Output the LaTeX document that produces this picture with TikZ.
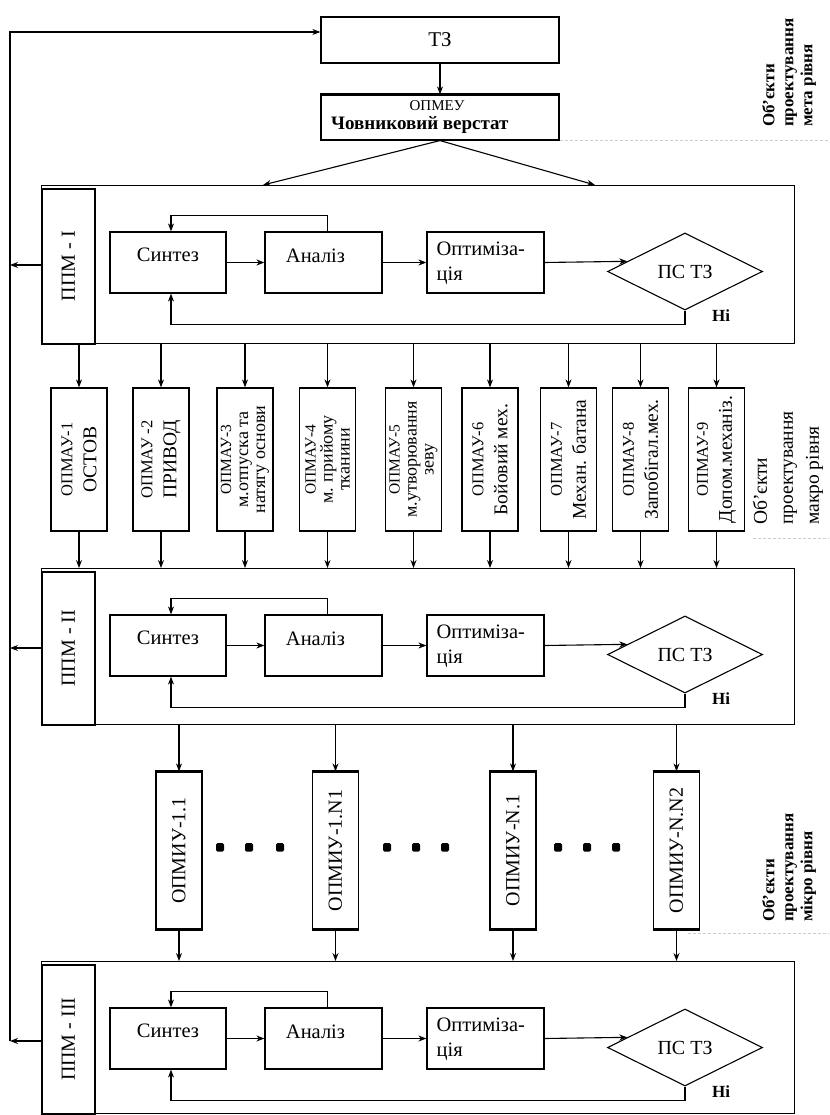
\documentclass[tikz,border=0pt]{standalone}
\usepackage{fontspec}
\setmainfont{Liberation Serif}
\usetikzlibrary{arrows.meta,shapes.geometric}
\tikzset{
  blk/.style={draw, line width=1.2pt, inner sep=0pt},
  arr/.style={-{Stealth[length=8pt,width=6pt]}, line width=1.1pt},
  btxt/.style={inner sep=0pt, font=\fontsize{20.5}{25}\selectfont},
  dec/.style={draw, diamond, shape aspect=2, line width=1.1pt, inner sep=0pt,
    minimum width=155pt, minimum height=77pt, font=\fontsize{20}{24}\selectfont},
  lbl/.style={rotate=90, inner sep=0pt, font=\fontsize{20}{24}\selectfont},
  notxt/.style={inner sep=0pt, font=\bfseries\fontsize{17}{20}\selectfont},
  mbox/.style={blk, minimum width=56pt, minimum height=143pt},
  mtxt/.style={rotate=90, align=center, inner sep=0pt, font=\fontsize{19.5}{22}\selectfont},
  mtxtc/.style={rotate=90, align=center, inner sep=0pt, font=\fontsize{18}{17}\selectfont},
  mic/.style={blk, minimum width=46pt, minimum height=157pt},
  mitxt/.style={rotate=90, inner sep=0pt, font=\fontsize{20}{22}\selectfont},
  side/.style={rotate=90, align=left, inner sep=0pt, font=\bfseries\fontsize{17}{19}\selectfont},
  sidem/.style={rotate=90, align=left, inner sep=0pt, font=\fontsize{19.5}{26}\selectfont},
  sep/.style={gray!40, line width=1pt, dash pattern=on 3pt off 2pt},
}
\newcommand\mA{\fontsize{16.5}{22}\selectfont}
\newcommand\mAc{\fontsize{15.5}{17}\selectfont}
\newcommand\PPMblock[4]{%
  \node[blk, anchor=north west, minimum width=753pt, minimum height=#3pt] (#1) at (41,#2) {};
  \node[blk, line width=1.6pt, anchor=north west, minimum width=53pt,
        minimum height={(#3-3)*1pt}] (#1lab) at (41,{#2+3}) {};
  \node[lbl] (#1labt) at (#1lab.center) {ППМ - #4};
  \node[blk, minimum width=116pt, minimum height=61pt] (#1syn) at (168,{#2+77.5}) {};
  \node[blk, minimum width=117pt, minimum height=61pt] (#1ana) at (323.5,{#2+77.5}) {};
  \node[blk, minimum width=117pt, minimum height=61pt] (#1opt) at (485.5,{#2+77.5}) {};
  \node[dec] (#1dec) at (685,{#2+86.5}) {ПС ТЗ};
  \node[btxt] (#1synt) at ([yshift=8pt]#1syn.center) {Синтез};
  \node[btxt] (#1anat) at ([xshift=-8pt,yshift=7pt]#1ana.center) {Аналіз};
  \node[btxt, anchor=west, align=left] (#1optt) at ([xshift=10pt,yshift=-1pt]#1opt.west) {Оптимізa-\\ція};
  \draw[arr] (#1syn.east) -- (#1ana.west);
  \draw[arr] (#1ana.east) -- (#1opt.west);
  \draw[arr] (#1opt.east) -- (#1dec.170);
  \draw[arr] ([xshift=4pt]#1ana.north) -- ++(0,-16) -| ([xshift=3pt]#1syn.north);
  \draw[arr] (#1dec.south) -- ++(0,14) -| ([xshift=3pt]#1syn.south);
  \node[notxt] (#1no) at (721,{#2+131}) {Ні};
  \coordinate (#1fb) at (10,{#2+80});
  \draw[arr] (#1lab.west |- #1fb) -- (#1fb);
}
\begin{document}
\begin{tikzpicture}[x=1pt,y=-1pt]
\useasboundingbox (0,0) rectangle (829,1115);
\fill[white] (0,0) rectangle (829,1115);

% top: TZ and OPMEU
\node[blk, minimum width=238pt, minimum height=46pt, font=\fontsize{21}{24}\selectfont] (tz) at (440,40) {ТЗ};
\node[blk, minimum width=238pt, minimum height=45pt] (opmeu) at (440,117.5) {};
\draw[line width=2pt] (opmeu.north west) -- (opmeu.north east);
\node[inner sep=0pt, font=\fontsize{15}{18}\selectfont] (opmeut) at (437,105.5) {ОПМЕУ};
\node[anchor=west, inner sep=0pt, font=\bfseries\fontsize{19}{22}\selectfont] (loom) at (331,124.5) {Човниковий верстат};
\draw[arr] (tz) -- (opmeu);

% blocks
\PPMblock{p1}{185}{158}{I}
\PPMblock{p2}{568}{156}{II}
\PPMblock{p3}{961}{152}{III}

\coordinate (p1inL) at (263,185);
\coordinate (p1inR) at (595,185);
\draw[arr] (opmeu.south) -- (p1inL);
\draw[arr] (opmeu.south) -- (p1inR);

% macro level objects
\node[mbox] (o1) at (79,459.5) {};
\node[mbox] (o2) at (161,459.5) {};
\node[mbox] (o3) at (245,459.5) {};
\node[mbox] (o4) at (327.5,459.5) {};
\node[mbox] (o5) at (413.5,459.5) {};
\node[mbox] (o6) at (490,459.5) {};
\node[mbox] (o7) at (568.5,459.5) {};
\node[mbox] (o8) at (640.5,459.5) {};
\node[mbox] (o9) at (716.5,459.5) {};
\node[mtxt] (o1t) at (o1.center) {{\mA ОПМАУ-1}\\[2pt]ОСТОВ};
\node[mtxt] (o2t) at (o2.center) {{\mA ОПМАУ -2}\\[2pt]ПРИВОД};
\node[mtxtc] (o3t) at (o3.center) {{\mAc ОПМАУ-3}\\м.отпуска та\\натягу основи};
\node[mtxtc] (o4t) at (o4.center) {{\mAc ОПМАУ-4}\\м. прийому\\тканини};
\node[mtxtc] (o5t) at (o5.center) {{\mAc ОПМАУ-5}\\м.утворювання\\зеву};
\node[mtxt] (o6t) at (o6.center) {{\mA ОПМАУ-6}\\[2pt]Бойовий мех.};
\node[mtxt] (o7t) at (o7.center) {{\mA ОПМАУ-7}\\[2pt]Механ. батана};
\node[mtxt] (o8t) at (o8.center) {{\mA ОПМАУ-8}\\[2pt]Запобігал.мех.};
\node[mtxt] (o9t) at (o9.center) {{\mA ОПМАУ-9}\\[2pt]Допом.механіз.};
\foreach \i in {1,...,9} {
  \draw[arr] (o\i.north |- p1.south) -- (o\i.north);
  \draw[arr] (o\i.south) -- (o\i.south |- p2.north);
}

% micro level objects
\node[mic] (m1) at (179,850.5) {};
\node[mic] (m2) at (335.5,850.5) {};
\node[mic] (m3) at (513,850.5) {};
\node[mic] (m4) at (676.5,850.5) {};
\node[mitxt] (m1t) at (m1.center) {ОПМИУ-1.1};
\node[mitxt] (m2t) at (m2.center) {ОПМИУ-1.N1};
\node[mitxt] (m3t) at (m3.center) {ОПМИУ-N.1};
\node[mitxt] (m4t) at (m4.center) {ОПМИУ-N.N2};
\foreach \i in {1,...,4} {
  \draw[line width=2pt] (m\i.north west) -- (m\i.north east);
  \draw[line width=2pt] (m\i.south west) -- (m\i.south east);
  \draw[arr] (m\i.north |- p2.south) -- (m\i.north);
  \draw[arr] (m\i.south) -- (m\i.south |- p3.north);
}
\foreach \x in {220,249,280,387,416,445,558,587,616} {
  \fill[rounded corners=1.5pt] (\x-4,843) rectangle (\x+4,851.5);
}

% feedback line on the left
\draw[arr] (p3fb) |- ([yshift=8pt]tz.west);

% faint separators
\coordinate (s1a) at (560,141); \coordinate (s1b) at (829,141);
\coordinate (s2a) at (753,538); \coordinate (s2b) at (829,538);
\coordinate (s3a) at (688,933); \coordinate (s3b) at (829,933);
\draw[sep] (s1a) -- (s1b);
\draw[sep] (s2a) -- (s2b);
\draw[sep] (s3a) -- (s3b);

% side labels
\node[side, anchor=west] (lmeta) at (789,127) {Об’єкти\\проектування\\мета рівня};
\node[sidem, anchor=west] (lmacro) at (788,525) {Об’єкти\\проектування\\макро рівня};
\node[side, anchor=west] (lmicro) at (789,922) {Об’єкти\\проектування\\мікро рівня};
\end{tikzpicture}
\end{document}
